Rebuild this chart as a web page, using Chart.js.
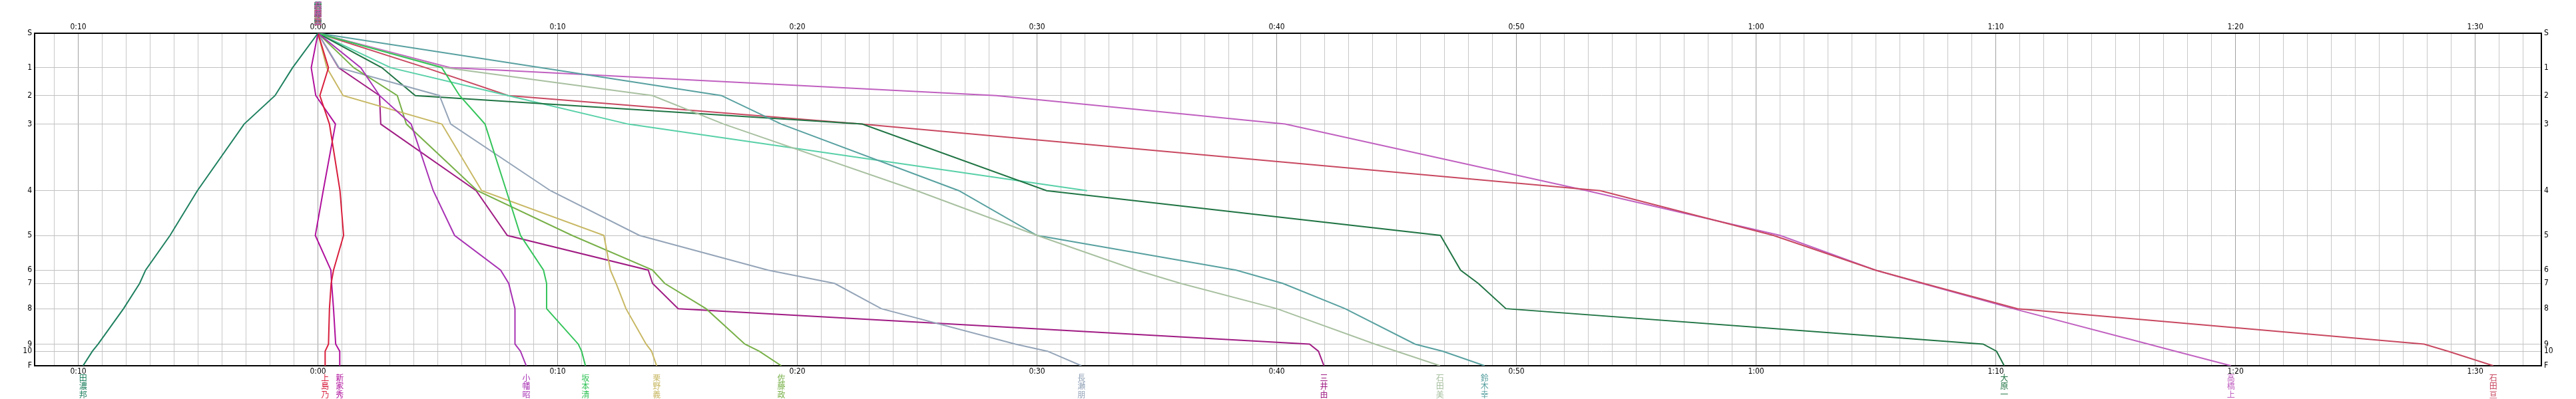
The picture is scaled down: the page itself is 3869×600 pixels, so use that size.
<!DOCTYPE html>
<html lang="ja">
<head>
<meta charset="UTF-8">
<title>Race Diagram</title>
<script src="https://cdn.jsdelivr.net/npm/chart.js"></script>
<style>
  body { margin: 0; background: #fff; }
  #wrap { width: 3869px; height: 600px; }
</style>
</head>
<body>
<div id="wrap"><canvas id="diagram" width="3869" height="600"></canvas></div>
<script>
  // stations from start (S) to finish (F), position = distance share
  const stations = ['S', '1', '2', '3', '4', '5', '6', '7', '8', '9', '10', 'F'];
  const stationPos = [0, 10.37, 18.74, 27.32, 47.35, 60.80, 71.24, 75.25, 82.83, 93.49, 95.64, 100];

  // passing times in minutes, one value per station
  const timesTanou     = [0, -1.06, -1.79, -3.08, -5.03, -6.17, -7.19, -7.44, -8.11, -9.17, -9.41, -9.80];
  const timesUeshima   = [0, 0.44, 0.08, 0.48, 0.92, 1.07, 0.65, 0.55, 0.48, 0.44, 0.30, 0.30];
  const timesShinke    = [0, -0.28, -0.09, 0.73, 0.22, -0.11, 0.54, 0.57, 0.65, 0.74, 0.91, 0.91];
  const timesObata     = [0, 1.79, 2.57, 3.89, 4.81, 5.70, 7.62, 7.96, 8.22, 8.22, 8.45, 8.69];
  const timesSakamoto  = [0, 5.17, 5.91, 6.97, 7.86, 8.45, 9.41, 9.54, 9.54, 10.86, 11.00, 11.16];
  const timesKurino    = [0, 0.37, 1.05, 5.17, 6.83, 11.93, 12.20, 12.44, 12.85, 13.69, 13.92, 14.13];
  const timesSato      = [0, 1.50, 3.31, 3.69, 6.65, 10.60, 13.96, 14.47, 16.19, 17.81, 18.41, 19.33];
  const timesNagase    = [0, 0.88, 5.07, 5.54, 9.70, 13.41, 18.78, 21.56, 23.50, 29.10, 30.44, 31.85];
  const timesMitsui    = [0, 0.86, 2.57, 2.62, 6.60, 7.90, 13.78, 13.96, 15.03, 41.37, 41.74, 41.97];
  const timesIshidaMi  = [0, 5.30, 13.96, 16.93, 24.98, 30.00, 34.15, 36.00, 40.00, 44.10, 45.00, 46.81];
  const timesSuzuki    = [0, 9.30, 16.83, 19.33, 26.74, 30.00, 38.31, 40.26, 42.85, 45.77, 46.93, 48.67];
  const timesOhara     = [0, 2.67, 4.06, 22.71, 30.40, 46.83, 47.67, 48.41, 49.56, 69.47, 70.03, 70.35];
  const timesRetired   = [0, 3.04, 7.93, 12.94, 32.09, null, null, null, null, null, null, null];
  const timesIshidaWa  = [0, 4.50, 7.94, 22.67, 53.50, 60.72, 64.98, 67.00, 70.90, 87.87, 88.87, 90.75];
  const timesTakahashi = [0, 5.54, 28.30, 40.35, 52.94, 61.00, 64.98, 66.93, 70.72, 76.37, 77.50, 79.81];

  const runnerNames = ['田濃邦', '上島乃', '新家秀', '小幡昭', '坂本清', '栗野義', '佐藤政', '長瀬朋',
                       '三井由', '石田美', '鈴木幸', '大原一', '', '石田亘', '高橋上'];
  const runnerColors = ['#1e8060', '#d81e3c', '#b0109c', '#a832b4', '#34c45a', '#c8b864', '#78b048', '#94a4b8',
                        '#a01c84', '#a8c0a0', '#58a0a0', '#207444', '#58d0a8', '#c84860', '#c060c0'];
  const runnerTimes = [timesTanou, timesUeshima, timesShinke, timesObata, timesSakamoto, timesKurino, timesSato,
                       timesNagase, timesMitsui, timesIshidaMi, timesSuzuki, timesOhara, timesRetired,
                       timesIshidaWa, timesTakahashi];

  const xMin = -11.82;
  const xMax = 92.76;

  const fmt = v => {
    const m = Math.round(Math.abs(v));
    return Math.floor(m / 60) + ':' + String(m % 60).padStart(2, '0');
  };

  const datasets = runnerTimes.map((times, i) => ({
    label: runnerNames[i] || 'DNF',
    data: times.map((t, k) => ({ x: t, y: stationPos[k] })).filter(p => p.x !== null),
    borderColor: runnerColors[i],
    borderWidth: 2,
    pointRadius: 0,
    tension: 0,
    fill: false
  }));

  // vertical names: overlapped at the start, one under each finish
  const namePlugin = {
    id: 'names',
    afterDraw(chart) {
      const ctx = chart.ctx;
      const xs = chart.scales.x;
      const area = chart.chartArea;
      ctx.save();
      ctx.font = '12px "Noto Sans CJK JP"';
      ctx.textAlign = 'center';
      ctx.textBaseline = 'top';
      runnerNames.forEach((name, i) => {
        if (!name) return;
        const times = runnerTimes[i];
        ctx.fillStyle = runnerColors[i];
        const x0 = xs.getPixelForValue(times[0]);
        [...name].forEach((ch, k) => ctx.fillText(ch, x0, 2 + k * 12));
        const last = times[times.length - 1];
        if (last !== null) {
          const x1 = xs.getPixelForValue(last);
          [...name].forEach((ch, k) => ctx.fillText(ch, x1, area.bottom + 12 + k * 12.5));
        }
      });
      ctx.restore();
    }
  };

  const tickFont = { family: '"DejaVu Sans Condensed", "DejaVu Sans"', size: 12 };

  new Chart(document.getElementById('diagram'), {
    type: 'line',
    data: { datasets },
    options: {
      responsive: false,
      animation: false,
      layout: { padding: 0 },
      plugins: { legend: { display: false }, tooltip: { enabled: false } },
      scales: {
        x: {
          type: 'linear', position: 'bottom', min: xMin, max: xMax,
          afterBuildTicks: s => {
            s.ticks = [];
            for (let m = Math.ceil(xMin); m <= Math.floor(xMax); m++) s.ticks.push({ value: m });
          },
          afterFit: s => { s.height = 50; },
          grid: {
            color: c => (c.tick && Math.round(c.tick.value) % 10 === 0) ? '#a0a0a0' : '#c8c8c8',
            lineWidth: 1,
            drawTicks: false
          },
          border: { display: true, color: '#000', width: 2 },
          ticks: {
            autoSkip: false, maxRotation: 0, padding: 2, color: '#000', font: tickFont,
            callback: v => (Math.round(v) % 10 === 0 ? fmt(v) : '')
          }
        },
        x2: {
          type: 'linear', position: 'top', min: xMin, max: xMax,
          afterBuildTicks: s => {
            s.ticks = [];
            for (let m = -10; m <= 90; m += 10) s.ticks.push({ value: m });
          },
          afterFit: s => { s.height = 50; },
          grid: { display: false, drawTicks: false },
          border: { display: true, color: '#000', width: 2 },
          ticks: { autoSkip: false, maxRotation: 0, padding: 2, color: '#000', font: tickFont, callback: v => fmt(v) }
        },
        y: {
          type: 'linear', position: 'left', min: 0, max: 100, reverse: true,
          afterBuildTicks: s => { s.ticks = stationPos.map(v => ({ value: v })); },
          afterFit: s => { s.width = 52; },
          grid: { color: '#c0c0c0', lineWidth: 1, drawTicks: false },
          border: { display: true, color: '#000', width: 2 },
          ticks: { autoSkip: false, padding: 4, color: '#000', font: tickFont, callback: (v, i) => stations[i] }
        },
        y2: {
          type: 'linear', position: 'right', min: 0, max: 100, reverse: true,
          afterBuildTicks: s => { s.ticks = stationPos.map(v => ({ value: v })); },
          afterFit: s => { s.width = 52; },
          grid: { display: false, drawTicks: false },
          border: { display: true, color: '#000', width: 2 },
          ticks: { autoSkip: false, padding: 4, color: '#000', font: tickFont, callback: (v, i) => stations[i] }
        }
      }
    },
    plugins: [namePlugin]
  });
</script>
</body>
</html>
